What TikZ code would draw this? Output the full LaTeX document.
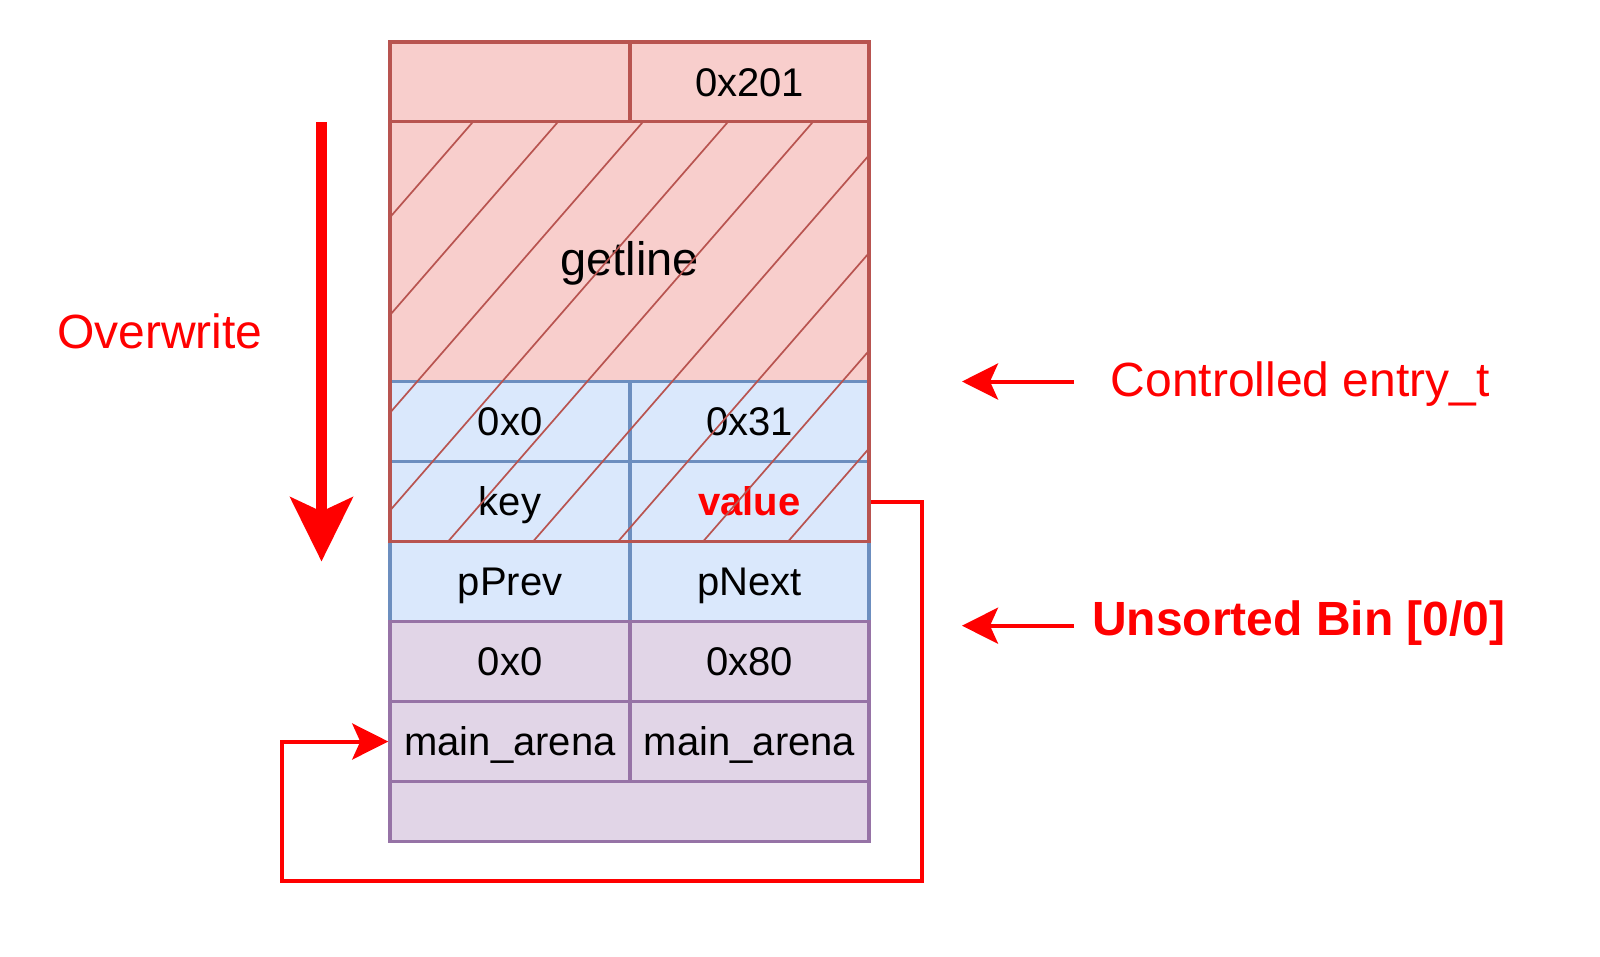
\documentclass[tikz,border=0pt]{standalone}
\usepackage{fontspec}
\setmainfont{Liberation Sans}
\usetikzlibrary{arrows.meta}

\definecolor{chkfill}{HTML}{F8CECC}
\definecolor{chkline}{HTML}{B85450}
\definecolor{entfill}{HTML}{DAE8FC}
\definecolor{entline}{HTML}{6C8EBF}
\definecolor{frefill}{HTML}{E1D5E7}
\definecolor{freline}{HTML}{9673A6}

\begin{document}
\begin{tikzpicture}[x=1pt,y=-1pt,
  cell/.style={draw,line width=3.5pt,inner sep=0pt,minimum width=240pt,minimum height=80pt,
    font=\fontsize{40}{48}\selectfont,text height=28.6pt,text depth=0pt},
  chunk/.style={cell,fill=chkfill,draw=chkline},
  entry/.style={cell,fill=entfill,draw=entline},
  freed/.style={cell,fill=frefill,draw=freline},
  note/.style={text=red,inner sep=0pt,font=\fontsize{48}{56}\selectfont,text height=34.4pt,text depth=0pt},
  ptr/.style={draw=red,line width=4pt,-{Stealth[length=36pt,width=36pt,inset=8pt]}},
  hatch/.style={chkline,line width=1.7pt}]
  \useasboundingbox (0,0) rectangle (1600,956);

  % chunk header
  \node[chunk,minimum height=79.5pt] (prevsz) at (510,81.75) {};
  \node[chunk,minimum height=79.5pt,minimum width=239pt] (size) at (749.5,81.75) {0x201};
  \node[chunk,minimum width=479pt,minimum height=260pt,font=\fontsize{47}{56}\selectfont,text height=47.6pt] (getline) at (629.5,251.5) {getline};

  % entry_t
  \node[entry] (eprev) at (510,421.5) {0x0};
  \node[entry,minimum width=239pt] (esize) at (749.5,421.5) {0x31};
  \node[entry] (key) at (510,501.5) {key};
  \node[entry,minimum width=239pt,text=red,font=\fontsize{40}{48}\selectfont\bfseries] (value) at (749.5,501.5) {value};
  \node[entry] (pprev) at (510,581.5) {pPrev};
  \node[entry,minimum width=239pt] (pnext) at (749.5,581.5) {pNext};

  % unsorted chunk
  \node[freed] (fprev) at (510,661.5) {0x0};
  \node[freed,minimum width=239pt] (fsize) at (749.5,661.5) {0x80};
  \node[freed] (fd) at (510,741.5) {main\_arena};
  \node[freed,minimum width=239pt] (bk) at (749.5,741.5) {main\_arena};
  \node[freed,minimum width=479pt,minimum height=60pt] (rest) at (629.5,811.5) {};

  % overwritten area
  \begin{scope}
    \clip (390,121.5) rectangle (869,541.5);
    \foreach \k in {-1,...,9}
      \draw[hatch] ({573.3+85*\k},6.5) -- ({-26.7+85*\k},696.5);
  \end{scope}
  \node[draw=chkline,line width=3.5pt,inner sep=0pt,minimum width=479pt,minimum height=420pt] (ovr) at (629.5,331.5) {};

  \coordinate (ovtop) at (321.5,122);
  \coordinate (ovend) at (321.5,561.5);
  \draw[red,line width=11pt,-{Stealth[length=64pt,width=62pt,inset=14pt]}] (ovtop) -- (ovend);
  \node[note] (ovlbl) at (160,331) {Overwrite};

  \coordinate (ctlfrom) at (1074,381.5);
  \coordinate (ctlto) at (962,381.5);
  \draw[ptr] (ctlfrom) -- (ctlto);
  \node[note,anchor=west] (ctllbl) at (1110.5,379) {Controlled entry\_t};

  \coordinate (binfrom) at (1074,625.7);
  \coordinate (binto) at (962,625.7);
  \draw[ptr] (binfrom) -- (binto);
  \node[note,anchor=west,font=\fontsize{48}{56}\selectfont\bfseries] (binlbl) at (1092,618.7) {Unsorted Bin [0/0]};

  % bk pointer back to main_arena
  \coordinate (loopR) at (921.5,881);
  \coordinate (loopL) at (282,881);
  \draw[ptr] (value.east) -| (loopR) -- (loopL) |- (fd.west);
\end{tikzpicture}
\end{document}
